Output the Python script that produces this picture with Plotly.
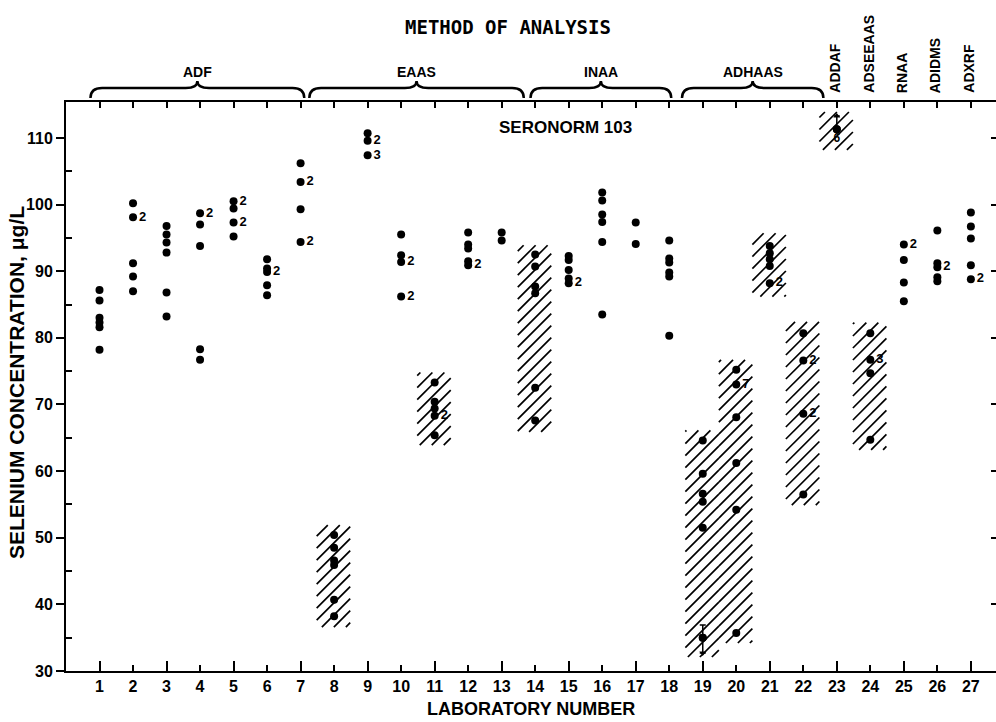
import plotly.graph_objects as go

# ---------------- data ----------------
lab_numbers = list(range(1, 28))

lab_ids = ([1]*6 + [2]*5 + [3]*6 + [4]*5 + [5]*4 + [6]*5 + [7]*4 + [8]*6 + [9]*3 +
           [10]*4 + [11]*5 + [12]*5 + [13]*2 + [14]*6 + [15]*5 + [16]*6 + [17]*2 +
           [18]*6 + [19]*6 + [20]*6 + [21]*5 + [22]*4 + [23]*1 + [24]*4 + [25]*4 +
           [26]*5 + [27]*5)

se_values = [
    87.2, 85.6, 83.0, 82.3, 81.6, 78.2,      # 1
    100.2, 98.1, 91.2, 89.2, 87.0,           # 2
    96.8, 95.5, 94.3, 92.8, 86.8, 83.2,      # 3
    98.7, 97.0, 93.8, 78.3, 76.7,            # 4
    100.5, 99.4, 97.3, 95.2,                 # 5
    91.8, 90.4, 89.9, 87.9, 86.4,            # 6
    106.2, 103.4, 99.3, 94.4,                # 7
    50.4, 48.5, 46.6, 45.9, 40.7, 38.2,      # 8
    110.7, 109.6, 107.4,                     # 9
    95.5, 92.4, 91.4, 86.2,                  # 10
    73.3, 70.4, 69.4, 68.3, 65.4,            # 11
    95.8, 94.0, 93.4, 91.5, 90.9,            # 12
    95.8, 94.6,                              # 13
    92.5, 90.7, 87.7, 86.7, 72.5, 67.6,      # 14
    92.3, 91.7, 90.2, 88.9, 88.2,            # 15
    101.8, 100.6, 98.5, 97.4, 94.4, 83.5,    # 16
    97.3, 94.1,                              # 17
    94.6, 91.9, 91.3, 89.8, 89.2, 80.3,      # 18
    64.6, 59.6, 56.6, 55.4, 51.5, 35.0,      # 19
    75.2, 73.0, 68.1, 61.2, 54.2, 35.7,      # 20
    93.8, 92.7, 91.8, 90.8, 88.2,            # 21
    80.7, 76.6, 68.6, 56.5,                  # 22
    111.3,                                   # 23
    80.7, 76.7, 74.7, 64.7,                  # 24
    94.0, 91.7, 88.3, 85.5,                  # 25
    96.1, 91.2, 90.6, 89.1, 88.5,            # 26
    98.8, 96.7, 94.9, 90.9, 88.8,            # 27
]

rep_labels = [
    '', '', '', '', '', '',          # 1
    '', '2', '', '', '',             # 2
    '', '', '', '', '', '',          # 3
    '2', '', '', '', '',             # 4
    '2', '', '2', '',                # 5
    '', '', '2', '', '',             # 6
    '', '2', '', '2',                # 7
    '', '', '', '', '', '',          # 8
    '', '2', '3',                    # 9
    '', '', '2', '2',                # 10
    '', '', '', '2', '',             # 11
    '', '', '', '', '2',             # 12
    '', '',                          # 13
    '', '', '', '', '', '',          # 14
    '', '', '', '', '2',             # 15
    '', '', '', '', '', '',          # 16
    '', '',                          # 17
    '', '', '', '', '', '',          # 18
    '', '', '', '', '', '',          # 19
    '', '7', '', '', '', '',         # 20
    '', '', '', '', '2',             # 21
    '', '2', '2', '',                # 22
    '',                              # 23
    '', '3', '', '',                 # 24
    '2', '', '', '',                 # 25
    '', '', '2', '', '',             # 26
    '', '', '', '', '2',             # 27
]

# hatched ranges (labs whose results were flagged)
hatch_labs = [8, 11, 14, 19, 20, 21, 22, 23, 24]
hatch_low = [36.6, 63.9, 65.9, 32.1, 34.2, 86.2, 54.9, 108.2, 63.2]
hatch_high = [51.9, 74.8, 93.9, 66.1, 76.7, 95.7, 82.4, 113.9, 82.3]

# special marks
flag_labs = [19, 23]
flag_values = [35.0, 111.3]
flag_up = [1.9, 2.0]
flag_down = [2.3, 0.0]
flag_notes = ['', '6']

# methods
group_names = ['ADF', 'EAAS', 'INAA', 'ADHAAS']
group_start = [0.73, 7.26, 13.86, 18.38]
group_end = [7.11, 13.66, 18.06, 22.60]
single_names = ['ADDAF', 'ADSEEAAS', 'RNAA', 'ADIDMS', 'ADXRF']
single_labs = [23, 24, 25, 26, 27]

# ---------------- figure ----------------
W, H = 996, 722
L, R, T, B = 66, 0, 102, 51
plot_h = H - T - B
plot_w = W - L - R
YR = [30, 115.4]
XR = [0, 27.75]
BOLD = "Liberation Sans"

# pixel scale -> hatch geometry (45 degree lines, 12 px apart vertically)
px_per_x = plot_w / (XR[1] - XR[0])
px_per_y = plot_h / (YR[1] - YR[0])
k_slope = px_per_x / px_per_y          # data-y per data-x for a 45 deg line
hatch_step = 12 / px_per_y             # vertical spacing in data units
half_w = 0.5


def py2paper(py):
    return (H - B - py) / plot_h


def px2paper(px):
    return (px - L) / plot_w


fig = go.Figure()

# hatched boxes: white box + clipped diagonal lines
hx, hy = [], []
for lab, lo, hi in zip(hatch_labs, hatch_low, hatch_high):
    a, b = lab - half_w - 0.02, lab + half_w - 0.02
    fig.add_trace(go.Scatter(
        x=[a, b, b, a, a], y=[lo, lo, hi, hi, lo],
        mode="lines", fill="toself", line=dict(width=0, color="rgba(0,0,0,0)"),
        fillcolor="white", hoverinfo="skip", showlegend=False))
    c_min = lo - k_slope * b
    c_max = hi - k_slope * a
    n0 = int(c_min // hatch_step) + 1
    c = n0 * hatch_step
    while c < c_max:
        xs = max(a, (lo - c) / k_slope)
        xe = min(b, (hi - c) / k_slope)
        if xe - xs > 0.02:
            hx += [xs, xe, None]
            hy += [c + k_slope * xs, c + k_slope * xe, None]
        c += hatch_step
fig.add_trace(go.Scatter(x=hx, y=hy, mode="lines",
                         line=dict(color="black", width=1.7),
                         hoverinfo="skip", showlegend=False))

# data points
fig.add_trace(go.Scatter(
    x=lab_ids, y=se_values, mode="markers+text", text=rep_labels,
    textposition="middle right",
    textfont=dict(family=BOLD, size=13, color="black", weight="bold"),
    marker=dict(size=8, color="black"),
    showlegend=False, cliponaxis=False))

# flagged points (range bars)
fig.add_trace(go.Scatter(
    x=flag_labs, y=flag_values, mode="markers",
    marker=dict(size=8, color="black"),
    error_y=dict(type="data", symmetric=False, array=flag_up, arrayminus=flag_down,
                 color="black", thickness=1.5, width=3),
    showlegend=False))
fig.add_trace(go.Scatter(
    x=[flag_labs[0]], y=[flag_values[0] - flag_down[0]], mode="markers",
    marker=dict(symbol="triangle-down", size=6, color="black"), showlegend=False))
fig.add_trace(go.Scatter(
    x=[flag_labs[1]], y=[flag_values[1] + flag_up[1]], mode="markers",
    marker=dict(symbol="triangle-up", size=6, color="black"), showlegend=False))
fig.add_trace(go.Scatter(
    x=[flag_labs[1]], y=[flag_values[1] - 1.5], mode="text", text=[flag_notes[1]],
    textfont=dict(family=BOLD, size=12, color="black", weight="bold"), showlegend=False))

# invisible traces to activate secondary axes
fig.add_trace(go.Scatter(x=[None], y=[None], xaxis="x2", yaxis="y", showlegend=False))
fig.add_trace(go.Scatter(x=[None], y=[None], xaxis="x", yaxis="y2", showlegend=False))

tickfont = dict(family=BOLD, size=16, color="black", weight="bold")

fig.update_layout(
    width=W, height=H, autosize=False,
    margin=dict(l=L, r=R, t=T, b=B, pad=0),
    paper_bgcolor="white", plot_bgcolor="white",
    xaxis=dict(range=XR, tickvals=lab_numbers, ticktext=[str(v) for v in lab_numbers],
               ticks="inside", ticklen=6, tickwidth=2, tickcolor="black",
               showline=True, linewidth=2, linecolor="black", mirror="ticks",
               showgrid=False, zeroline=False, tickfont=tickfont),
    xaxis2=dict(range=XR, overlaying="x", anchor="y", side="bottom",
                tickvals=lab_numbers[::2], ticks="inside", ticklen=10, tickwidth=2,
                tickcolor="black", showticklabels=False, showline=False,
                showgrid=False, zeroline=False),
    yaxis=dict(range=YR, tickvals=list(range(30, 111, 10)),
               ticks="outside", ticklen=8, tickwidth=2, tickcolor="black",
               minor=dict(tickvals=list(range(35, 111, 10)), ticks="inside",
                          ticklen=6, tickwidth=2, tickcolor="black"),
               showline=True, linewidth=2, linecolor="black",
               showgrid=False, zeroline=False, tickfont=tickfont),
    yaxis2=dict(range=YR, overlaying="y", anchor="x", side="right",
                tickvals=list(range(40, 111, 10)), ticks="inside", ticklen=5,
                tickwidth=2, tickcolor="black", showticklabels=False,
                showline=False, showgrid=False, zeroline=False),
)

ann = []
# axis titles
ann.append(dict(text="LABORATORY NUMBER", xref="paper", yref="paper", x=0.5, y=py2paper(709),
                xanchor="center", yanchor="middle", showarrow=False,
                font=dict(family=BOLD, size=18, color="black", weight="bold")))
ann.append(dict(text="SELENIUM CONCENTRATION, μg/L", xref="paper", yref="paper",
                x=px2paper(16), y=py2paper(383), textangle=-90,
                xanchor="center", yanchor="middle", showarrow=False,
                font=dict(family=BOLD, size=21, color="black", weight="bold")))
# main title
ann.append(dict(text="METHOD OF ANALYSIS", xref="paper", yref="paper",
                x=px2paper(508), y=py2paper(27), xanchor="center", yanchor="middle",
                showarrow=False,
                font=dict(family="DejaVu Sans Mono", size=19, color="black", weight="bold")))
# sample name
ann.append(dict(text="SERONORM 103", xref="paper", yref="paper",
                x=px2paper(565), y=py2paper(127), xanchor="center", yanchor="middle",
                showarrow=False, font=dict(family=BOLD, size=17, color="black", weight="bold")))

shapes = []
y_end, y_h, y_peak = py2paper(98), py2paper(88), py2paper(81)
rr = 0.35
for name, x0, x1 in zip(group_names, group_start, group_end):
    xm = (x0 + x1) / 2
    path = (f"M {x0},{y_end} Q {x0},{y_h} {x0 + rr},{y_h} L {xm - rr},{y_h} "
            f"Q {xm},{y_h} {xm},{y_peak} Q {xm},{y_h} {xm + rr},{y_h} "
            f"L {x1 - rr},{y_h} Q {x1},{y_h} {x1},{y_end}")
    shapes.append(dict(type="path", path=path, xref="x", yref="paper",
                       line=dict(color="black", width=2.5)))
    ann.append(dict(text=name, xref="x", yref="paper", x=xm, y=py2paper(72),
                    xanchor="center", yanchor="middle", showarrow=False,
                    font=dict(family=BOLD, size=14, color="black", weight="bold")))

for name, lab in zip(single_names, single_labs):
    ann.append(dict(text=name, xref="x", yref="paper", x=lab - 0.05, y=py2paper(95),
                    xanchor="center", yanchor="bottom", textangle=-90, showarrow=False,
                    font=dict(family=BOLD, size=14, color="black", weight="bold")))

fig.update_layout(annotations=ann, shapes=shapes)

fig.write_html("out.html", config={"displayModeBar": False},
               post_script="document.body.style.margin='0px';document.body.style.overflow='hidden';")
